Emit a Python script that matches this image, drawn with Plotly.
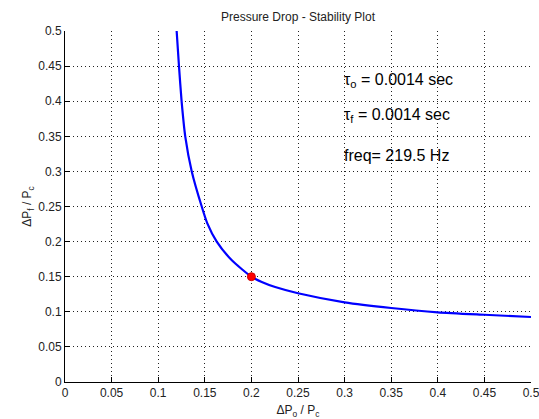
import plotly.graph_objects as go

# Stability boundary curve
curve_x = [0.1198, 0.1223, 0.1251, 0.1290, 0.1360, 0.1467, 0.1527, 0.1628, 0.1790,
           0.2000, 0.2111, 0.2255, 0.2500, 0.3000, 0.3500, 0.4000, 0.4500, 0.5000]
curve_y = [0.5000, 0.4500, 0.4000, 0.3500, 0.3000, 0.2500, 0.2260, 0.2000, 0.1734,
           0.1500, 0.1425, 0.1353, 0.1265, 0.1135, 0.1054, 0.0993, 0.0958, 0.0926]

# Operating point
point_x = [0.2]
point_y = [0.15]

tick_vals = [0, 0.05, 0.1, 0.15, 0.2, 0.25, 0.3, 0.35, 0.4, 0.45, 0.5]
tick_text = ["0", "0.05", "0.1", "0.15", "0.2", "0.25", "0.3", "0.35", "0.4", "0.45", "0.5"]

labels = ["τ<sub>o</sub> = 0.0014 sec", "τ<sub>f</sub> = 0.0014 sec", "freq= 219.5 Hz"]
label_x = [0.3, 0.3, 0.3]
label_y = [0.43, 0.38, 0.323]

FONT = "Liberation Sans, Arial"

fig = go.Figure()
fig.add_trace(go.Scatter(x=curve_x, y=curve_y, mode="lines",
                         line=dict(color="#0000ff", width=2.2, shape="spline", smoothing=0.6),
                         showlegend=False))
fig.add_trace(go.Scatter(x=point_x, y=point_y, mode="markers",
                         marker=dict(color="#ff0000", size=8, line=dict(color="#cc0000", width=1)),
                         showlegend=False))

for t, lx, ly in zip(labels, label_x, label_y):
    fig.add_annotation(x=lx, y=ly, text=t, showarrow=False, xanchor="left", yanchor="middle",
                       xshift=-3, font=dict(family=FONT, size=16, color="black"))

axis_common = dict(
    tickvals=tick_vals, ticktext=tick_text, range=[0, 0.5],
    showgrid=True, gridcolor="#222", griddash="1px,3px", gridwidth=1,
    showline=True, linecolor="black", linewidth=1, mirror=False,
    ticks="inside", ticklen=5, tickcolor="black",
    zeroline=False, automargin=False, ticklabeloverflow="allow",
    tickfont=dict(family=FONT, size=12, color="#222"),
)

fig.update_xaxes(**axis_common,
                 title=dict(text="ΔP<sub>o</sub> / P<sub>c</sub>",
                            font=dict(family=FONT, size=12, color="#222")))
fig.update_yaxes(**axis_common,
                 title=dict(text="ΔP<sub>f</sub> / P<sub>c</sub>",
                            font=dict(family=FONT, size=12, color="#222")))

fig.update_layout(
    template="none",
    width=539, height=419,
    margin=dict(l=65, r=8, t=31, b=37, pad=0),
    plot_bgcolor="white", paper_bgcolor="white",
    title=dict(text="Pressure Drop - Stability Plot", xref="paper", x=0.5, xanchor="center",
               yref="container", y=1 - 17 / 419, yanchor="middle",
               font=dict(family=FONT, size=12, color="#222")),
)

fig.write_html("out.html", config={"displayModeBar": False},
               post_script="document.body.style.margin='0';document.body.style.overflow='hidden';")
